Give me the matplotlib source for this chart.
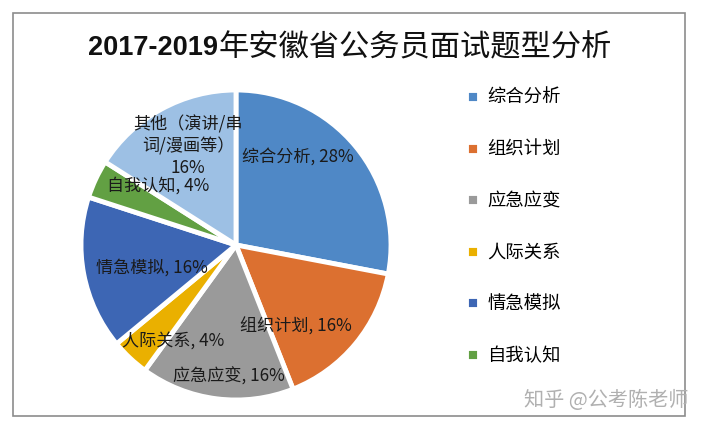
import matplotlib
matplotlib.use("Agg")
import matplotlib.pyplot as plt
from matplotlib.patches import Rectangle
import numpy as np

plt.rcParams['font.family'] = ['Noto Sans CJK SC', 'DejaVu Sans']

# data
categories = ['综合分析', '组织计划', '应急应变', '人际关系', '情急模拟', '自我认知',
              '其他（演讲/串\n词/漫画等）']
values = [28, 16, 16, 4, 16, 4, 16]
colors = ['#4F88C6', '#DC7030', '#9A9A9A', '#EAB000', '#3D66B4', '#62A043', '#9DC0E4']
title_num = '2017-2019'
title_cjk = '年安徽省公务员面试题型分析'
watermark = '知乎 @公考陈老师'

W, H = 704, 428
fig = plt.figure(figsize=(W / 100, H / 100), dpi=100)

# outer frame
fig.patches.append(Rectangle((13 / W, 1 - 416 / H), (685 - 13) / W, (416 - 13) / H,
                             transform=fig.transFigure, fill=False,
                             edgecolor='#8c8c8c', lw=1.2))

# pie axes: centre (236, 245), radius 155 px
cx, cy, r = 236, 245, 155
half = 165
ax = fig.add_axes([(cx - half) / W, 1 - (cy + half) / H, 2 * half / W, 2 * half / H])
lim = half / r

wedges, _ = ax.pie(values, colors=colors, startangle=90, counterclock=False,
                   radius=1.0, wedgeprops=dict(edgecolor='white', linewidth=3.5),
                   frame=True)
ax.set_xlim(-lim, lim)
ax.set_ylim(-lim, lim)
ax.set_aspect('equal')
ax.axis('off')

# data labels: radius and angular nudge for each slice
lab_r = [0.69, 0.65, 0.85, 0.74, 0.56, 0.63, 0.71]
lab_da = [15, -14, 4, 10, 4, -12, -3]
for w, cat, v, rr, da in zip(wedges, categories, values, lab_r, lab_da):
    mid = np.deg2rad((w.theta1 + w.theta2) / 2 + da)
    if '\n' in cat:
        txt = f'{cat}\n{v}%'
    else:
        txt = f'{cat}, {v}%'
    ax.text(rr * np.cos(mid), rr * np.sin(mid), txt, ha='center', va='center',
            fontsize=12.3, color='#1a1a1a', linespacing=1.25)

# legend (the original shows only the first six entries)
fig.legend(wedges[:6], categories[:6], loc='upper left',
           bbox_to_anchor=(466 / W, 1 - 89 / H), frameon=False,
           fontsize=13.2, handlelength=0.7, handleheight=0.7,
           handletextpad=0.45, labelspacing=1.83, borderpad=0, borderaxespad=0)

# title: bold digits followed by regular CJK
t1 = fig.text(88 / W, 1 - 48 / H, title_num, fontsize=19.5, fontweight='bold',
              family=['Liberation Sans', 'DejaVu Sans'], va='center',
              ha='left', color='#111111')
fig.canvas.draw()
bb = t1.get_window_extent()
fig.text(bb.x1 / W + 1 / W, 1 - 48 / H, title_cjk, fontsize=21.8, va='center',
         ha='left', color='#111111')

# watermark
fig.text(688 / W, 1 - 400 / H, watermark, fontsize=14.5, color='#b0b0b0',
         ha='right', va='center')

fig.savefig('out.png', dpi=100)
